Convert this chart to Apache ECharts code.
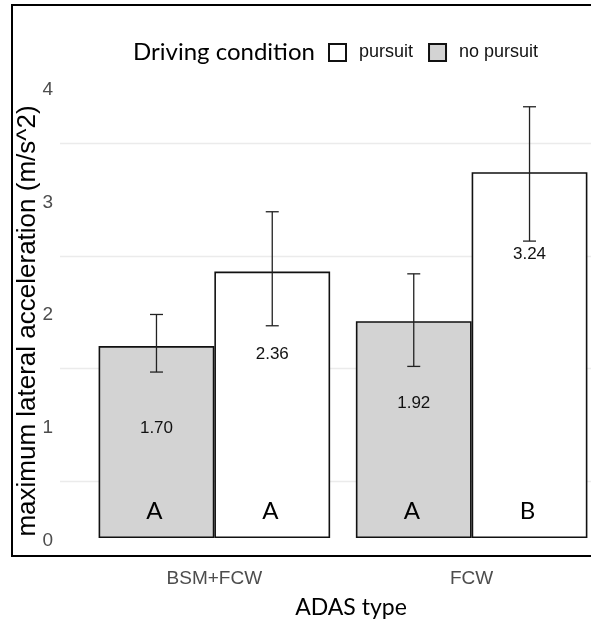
<!DOCTYPE html>
<html><head><meta charset="utf-8">
<script src="https://cdn.jsdelivr.net/npm/echarts@6/dist/echarts.min.js"></script>
<style>html,body{margin:0;padding:0;background:#fff}#c{width:591px;height:624px}</style>
</head><body><div id="c"></div>
<script>
// ---- data ----
const categories = ['BSM+FCW', 'FCW'];
const categoryPos = [1, 2];
const noPursuitMean = [1.70, 1.92];
const noPursuitLow = [1.47, 1.52];
const noPursuitHigh = [1.98, 2.34];
const noPursuitLetters = ['A', 'A'];
const pursuitMean = [2.36, 3.24];
const pursuitLow = [1.88, 2.63];
const pursuitHigh = [2.89, 3.82];
const pursuitLetters = ['A', 'B'];
const yTicks = [0, 1, 2, 3, 4];

const ARIAL = '"Liberation Sans", Arial, sans-serif';
const CAL = 'Lato, "Open Sans", sans-serif';

function overlay(name, side, low, high, letters) {
  return {
    type: 'custom', name: name, z: 6, silent: true,
    data: categoryPos.map((p, i) => [p, low[i], high[i]]),
    encode: { x: 0, y: [1, 2] },
    renderItem: function (params, api) {
      const unit = api.size([1, 0])[0];
      const base = api.coord([api.value(0), 0]);
      const cx = base[0] + side * unit * 0.225;
      const yLo = api.coord([api.value(0), api.value(1)])[1];
      const yHi = api.coord([api.value(0), api.value(2)])[1];
      const w = 6.5;
      const ls = { stroke: '#222', lineWidth: 1.3 };
      return { type: 'group', children: [
        { type: 'line', shape: { x1: cx, y1: yLo, x2: cx, y2: yHi }, style: ls },
        { type: 'line', shape: { x1: cx - w, y1: yHi, x2: cx + w, y2: yHi }, style: ls },
        { type: 'line', shape: { x1: cx - w, y1: yLo, x2: cx + w, y2: yLo }, style: ls },
        { type: 'text', x: cx - 2, y: base[1] - 15, style: { text: letters[params.dataIndex], fontFamily: CAL, fontSize: 24, fill: '#000', align: 'center', verticalAlign: 'bottom' } }
      ]};
    }
  };
}

const barLabel = {
  show: true, position: 'insideTop', distance: 74,
  formatter: p => p.value[1].toFixed(2),
  fontFamily: ARIAL, fontSize: 17, color: '#111'
};

const chart = echarts.init(document.getElementById('c'), null, { renderer: 'canvas' });
chart.setOption({
  backgroundColor: '#fff',
  animation: false,
  grid: { left: 60, top: 30, width: 566, height: 508, containLabel: false, outerBoundsMode: 'none' },
  xAxis: {
    type: 'value', min: 0.4, max: 2.6,
    axisLine: { show: false }, axisTick: { show: false }, splitLine: { show: false },
    axisLabel: {
      customValues: categoryPos,
      formatter: v => { const i = categoryPos.indexOf(v); return i >= 0 ? categories[i] : ''; },
      margin: 31, color: '#4d4d4d', fontSize: 19, fontFamily: ARIAL
    }
  },
  yAxis: {
    type: 'value', min: 0, max: 4.5, interval: 0.5,
    axisLine: { show: false }, axisTick: { show: false },
    axisLabel: {
      formatter: v => yTicks.indexOf(v) >= 0 ? String(v) : '',
      margin: 7, color: '#4d4d4d', fontSize: 19, fontFamily: ARIAL, verticalAlign: 'top', lineHeight: 6
    },
    splitLine: { show: true, lineStyle: { width: 1.3, color: ['rgba(0,0,0,0)', '#ebebeb', 'rgba(0,0,0,0)', '#ebebeb', 'rgba(0,0,0,0)', '#ebebeb', 'rgba(0,0,0,0)', '#ebebeb', 'rgba(0,0,0,0)', 'rgba(0,0,0,0)'] } }
  },
  legend: {
    data: ['pursuit', 'no pursuit'],
    left: 328, top: 43, padding: 0, itemWidth: 17, itemHeight: 17, itemGap: 15, icon: 'rect',
    textStyle: { fontFamily: ARIAL, fontSize: 18, color: '#111', padding: [2, 0, 0, 8] }
  },
  series: [
    { type: 'bar', name: 'no pursuit', data: categoryPos.map((p, i) => [p, noPursuitMean[i]]),
      barCategoryGap: '10%', barGap: '0%', z: 2,
      itemStyle: { color: '#d3d3d3', borderColor: '#111', borderWidth: 1.6 }, label: barLabel },
    { type: 'bar', name: 'pursuit', data: categoryPos.map((p, i) => [p, pursuitMean[i]]),
      barCategoryGap: '10%', barGap: '0%', z: 2,
      itemStyle: { color: '#ffffff', borderColor: '#111', borderWidth: 1.6 }, label: barLabel },
    overlay('err_no', -1, noPursuitLow, noPursuitHigh, noPursuitLetters),
    overlay('err_p', 1, pursuitLow, pursuitHigh, pursuitLetters)
  ],
  graphic: [
    { type: 'rect', shape: { x: 12, y: 5, width: 640, height: 551 }, style: { fill: 'none', stroke: '#000', lineWidth: 2 }, z: 10, silent: true },
    { type: 'text', x: 28, y: 321, rotation: Math.PI / 2, style: { text: 'maximum lateral acceleration (m/s^2)', fontFamily: ARIAL, fontSize: 26, fill: '#000', align: 'center', verticalAlign: 'middle' } },
    { type: 'text', x: 133, y: 52, style: { text: 'Driving condition', fontFamily: CAL, fontSize: 24, fill: '#000', align: 'left', verticalAlign: 'middle' } },
    { type: 'text', x: 351, y: 608, style: { text: 'ADAS type', fontFamily: CAL, fontSize: 23, fill: '#000', align: 'center', verticalAlign: 'middle' } }
  ]
});
</script></body></html>
